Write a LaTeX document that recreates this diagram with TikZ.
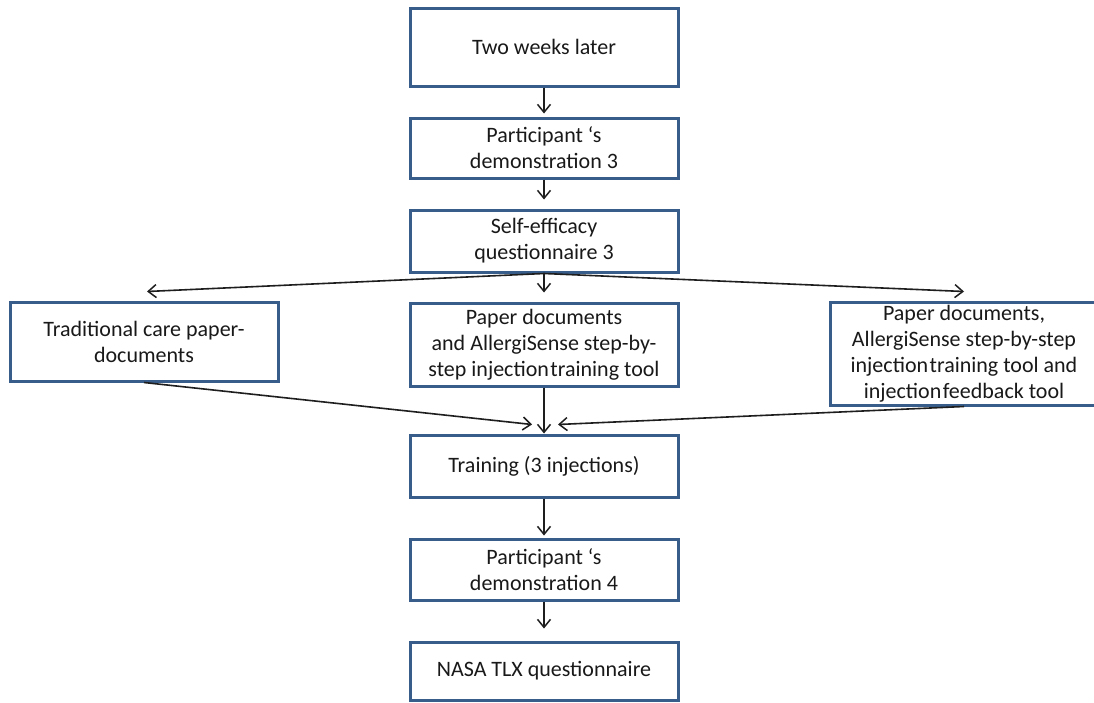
\documentclass[tikz,border=0pt]{standalone}
\usepackage{fontspec}
\setmainfont{Carlito}
\usetikzlibrary{arrows.meta}
\definecolor{boxblue}{RGB}{56,93,138}
\definecolor{arrowgray}{RGB}{30,30,30}
\newcommand{\tightsp}[1]{{\spaceskip=1.5pt\relax #1}}
\begin{document}
\begin{tikzpicture}[x=1pt,y=-1pt,
  box/.style={draw=boxblue, line width=3pt, fill=white, minimum width=268pt,
    inner sep=0pt, align=center, text=black!90,
    font=\fontsize{22pt}{26pt}\selectfont},
  conn/.style={draw=arrowgray, line width=1.6pt,
    -{Straight Barb[length=8pt,width=13pt,line width=1.5pt]}}]
\useasboundingbox[fill=white] (0,0) rectangle (1094,702);

\node[box, minimum height=78pt] (b1) at (544,47) {Two weeks later};
\node[box, minimum height=60pt] (b2) at (544,148) {Participant ‘s\\demonstration 3};
\node[box, minimum height=62pt] (b3) at (544,241) {Self-efficacy\\questionnaire 3};
\node[box, minimum height=79pt] (l) at (144,341.5) {Traditional care paper-\\documents};
\node[box, minimum height=83pt] (m) at (544,344.5) {Paper documents\\and AllergiSense step-by-\\step \tightsp{injection training} tool};
\node[box, minimum height=103pt] (r) at (964,353.5) {Paper documents,\\AllergiSense step-by-step\\\tightsp{injection training} tool and\\\tightsp{injection feedback} tool};
\node[box, minimum height=62pt] (t) at (544,466) {Training (3 injections)};
\node[box, minimum height=61pt] (d4) at (544,569.5) {Participant ‘s\\demonstration 4};
\node[box, minimum height=58pt] (n) at (544,671) {NASA TLX questionnaire};

\coordinate (lt) at ([xshift=3pt,yshift=9pt]l.north);
\coordinate (rt) at ([yshift=9pt]r.north);
\coordinate (ml) at ([xshift=-12pt,yshift=9pt]t.north);
\coordinate (mr) at ([xshift=14pt,yshift=9pt]t.north);

\draw[conn] (b1) -- ([yshift=3pt]b2.north);
\draw[conn] (b2) -- ([yshift=9pt]b3.north);
\draw[conn] (b3.south) -- (lt);
\draw[conn] (b3.south) -- (rt);
\draw[conn] (b3.south) -- ([yshift=9pt]m.north);
\draw[conn] (l.south) -- (ml);
\draw[conn] (r.south) -- (mr);
\draw[conn] (m.south) -- (t.north);
\draw[conn] (t) -- ([yshift=2pt]d4.north);
\draw[conn] (d4) -- ([yshift=12pt]n.north);
\end{tikzpicture}
\end{document}
